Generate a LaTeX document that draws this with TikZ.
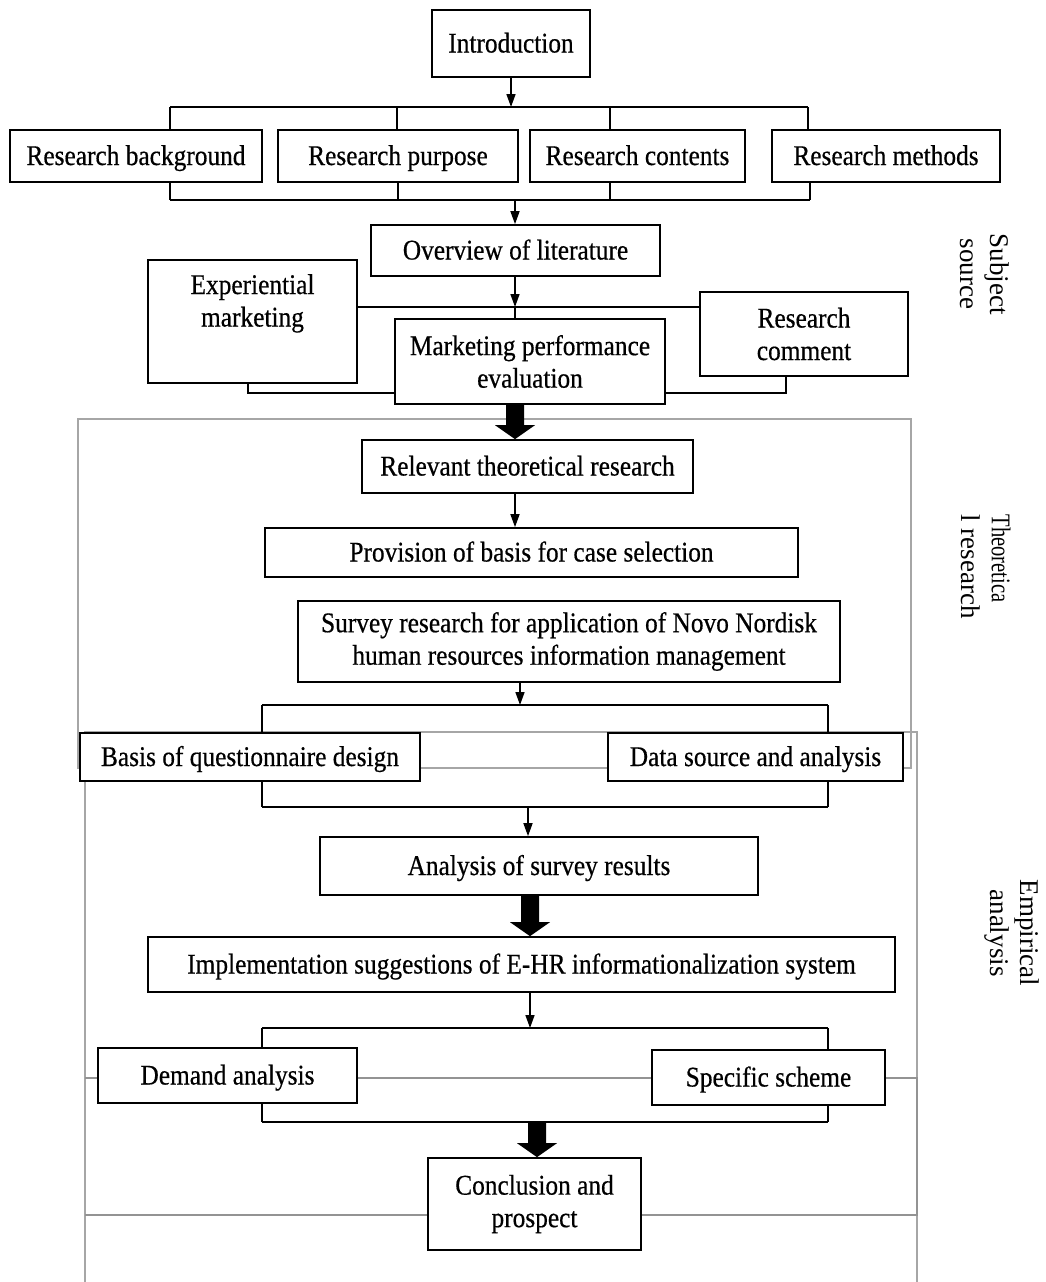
\documentclass[tikz,border=0pt]{standalone}
\usepackage{fontspec}
\setmainfont{Liberation Serif}[FakeStretch=0.89,FakeBold=0.5]
\newfontfamily\lblfont{Liberation Serif}
\usetikzlibrary{arrows.meta,calc}
\newcommand\blockarr[3]{%
  \fill[black] let \p1=(#2), \p2=(#3) in
    ({#1pt-9pt},\y1) -- ({#1pt+9pt},\y1) -- ({#1pt+9pt},\y2+14pt) --
    ({#1pt+20pt},\y2+14pt) -- ({#1pt},\y2) -- ({#1pt-20pt},\y2+14pt) --
    ({#1pt-9pt},\y2+14pt) -- cycle;}
\begin{document}
\begin{tikzpicture}[x=1pt,y=-1pt,
  box/.style={draw=black,fill=white,line width=1.7pt,inner sep=0pt,align=center,
    font=\fontsize{28.5}{32.5}\selectfont},
  box1/.style={box,text height=22pt,text depth=4pt},
  arr/.style={line width=1.6pt,-{Triangle[length=13pt,width=9pt]}},
  ln/.style={line width=1.6pt},
  frame/.style={draw=gray!70,line width=1.4pt},
  side/.style={rotate=-90,font=\lblfont\fontsize{27}{30}\selectfont}]
\useasboundingbox (0,0) rectangle (1045,1282);
% gray frames
\draw[frame] (78,419) rectangle (911,768);
\draw[frame] (85,1282) -- (85,732) -- (917,732) -- (917,1282);
\draw[frame,draw=gray!85] (85,1078) -- (917,1078) -- (917,1215) -- (85,1215);
% side labels
\node[side,align=center] (l1) at (985,274) {Subject\\source};
\node[side,align=left,anchor=west] (l2) at (986,511) {\scalebox{0.76}[1]{Theoretica}\\l research};
\node[side,align=center] (l3) at (1012,933) {Empirical\\analysis};
% boxes
\node[box1,minimum width=158pt,minimum height=67pt] (intro) at (511,43.5) {Introduction};
\node[box1,minimum width=252pt,minimum height=52pt] (rb) at (136,156) {Research background};
\node[box1,minimum width=240pt,minimum height=52pt] (rp) at (398,156) {Research purpose};
\node[box1,minimum width=215pt,minimum height=52pt] (rc) at (637.5,156) {Research contents};
\node[box1,minimum width=228pt,minimum height=52pt] (rm) at (886,156) {Research methods};
\node[box1,minimum width=289pt,minimum height=51pt] (ov) at (515.5,250.5) {Overview of literature};
\node[box,minimum width=209pt,minimum height=123pt] (em) at (252.5,321.5) {Experiential\\marketing\\ \strut};
\node[box,minimum width=208pt,minimum height=84pt] (rcm) at (804,334) {Research\\comment};
\node[box,minimum width=270pt,minimum height=85pt] (mpe) at (530,361.5) {Marketing performance\\evaluation};
\node[box1,minimum width=331pt,minimum height=53pt] (rtr) at (527.5,466.5) {Relevant theoretical research};
\node[box1,minimum width=533pt,minimum height=49pt] (pbc) at (531.5,552.5) {Provision of basis for case selection};
\node[box,minimum width=542pt,minimum height=81pt] (sr) at (569,641.5) {Survey research for application of Novo Nordisk\\human resources information management};
\node[box1,minimum width=340pt,minimum height=48pt] (bq) at (250,757) {Basis of questionnaire design};
\node[box1,minimum width=295pt,minimum height=48pt] (ds) at (755.5,757) {Data source and analysis};
\node[box1,minimum width=438pt,minimum height=58pt] (asr) at (539,866) {Analysis of survey results};
\node[box1,minimum width=747pt,minimum height=55pt] (is) at (521.5,964.5) {Implementation suggestions of E-HR informationalization system};
\node[box1,minimum width=259pt,minimum height=55pt] (da) at (227.5,1075.5) {Demand analysis};
\node[box1,minimum width=233pt,minimum height=55pt] (ss) at (768.5,1077.5) {Specific scheme};
\node[box,minimum width=213pt,minimum height=92pt] (cp) at (534.5,1204) {Conclusion and\\prospect};
% top buses
\coordinate (t0) at (511,107);
\coordinate (ta) at (170,107); \coordinate (tb) at (397,107);
\coordinate (tc) at (610,107); \coordinate (td) at (808,107);
\draw[arr] (intro) -- (t0);
\draw[ln] (ta) -- (td);
\draw[ln] (ta) -- (ta |- rb.north);
\draw[ln] (tb) -- (tb |- rp.north);
\draw[ln] (tc) -- (tc |- rc.north);
\draw[ln] (td) -- (td |- rm.north);
\coordinate (ba) at (170,200); \coordinate (bb) at (398,200);
\coordinate (bc) at (610,200); \coordinate (bd) at (810,200);
\coordinate (bo) at (515,200);
\draw[ln] (ba) -- (bd);
\draw[ln] (rb.south -| ba) -- (ba);
\draw[ln] (rp.south -| bb) -- (bb);
\draw[ln] (rc.south -| bc) -- (bc);
\draw[ln] (rm.south -| bd) -- (bd);
\draw[arr] (bo) -- (bo |- ov.north);
% literature junction
\coordinate (j1) at (515,307);
\draw[arr] (ov.south -| j1) -- (j1);
\draw[ln] (em.east |- j1) -- (rcm.west |- j1);
\draw[ln] (j1) -- (j1 |- mpe.north);
\coordinate (eml) at (248,393); \coordinate (rcl) at (786,393);
\draw[ln] (em.south -| eml) -- (eml) -- (mpe.west |- eml);
\draw[ln] (rcm.south -| rcl) -- (rcl) -- (mpe.east |- rcl);
% theoretical part
\blockarr{515}{mpe.south}{rtr.north}
\coordinate (x1) at (515,0);
\draw[arr] (rtr.south -| x1) -- (pbc.north -| x1);
\coordinate (s2) at (520,705);
\coordinate (s2a) at (262,705); \coordinate (s2b) at (828,705);
\draw[arr] (sr.south -| s2) -- (s2);
\draw[ln] (s2a) -- (s2b);
\draw[ln] (s2a) -- (s2a |- bq.north);
\draw[ln] (s2b) -- (s2b |- ds.north);
\coordinate (s3) at (528,807);
\coordinate (s3a) at (262,807); \coordinate (s3b) at (828,807);
\draw[ln] (s3a) -- (s3b);
\draw[ln] (bq.south -| s3a) -- (s3a);
\draw[ln] (ds.south -| s3b) -- (s3b);
\draw[arr] (s3) -- (s3 |- asr.north);
% empirical part
\blockarr{530}{asr.south}{is.north}
\coordinate (s4) at (530,1028);
\coordinate (s4a) at (262,1028); \coordinate (s4b) at (828,1028);
\draw[arr] (is.south -| s4) -- (s4);
\draw[ln] (s4a) -- (s4b);
\draw[ln] (s4a) -- (s4a |- da.north);
\draw[ln] (s4b) -- (s4b |- ss.north);
\coordinate (s5) at (537,1122);
\coordinate (s5a) at (262,1122); \coordinate (s5b) at (828,1122);
\draw[ln] (s5a) -- (s5b);
\draw[ln] (da.south -| s5a) -- (s5a);
\draw[ln] (ss.south -| s5b) -- (s5b);
\blockarr{537}{s5}{cp.north}
\end{tikzpicture}
\end{document}
